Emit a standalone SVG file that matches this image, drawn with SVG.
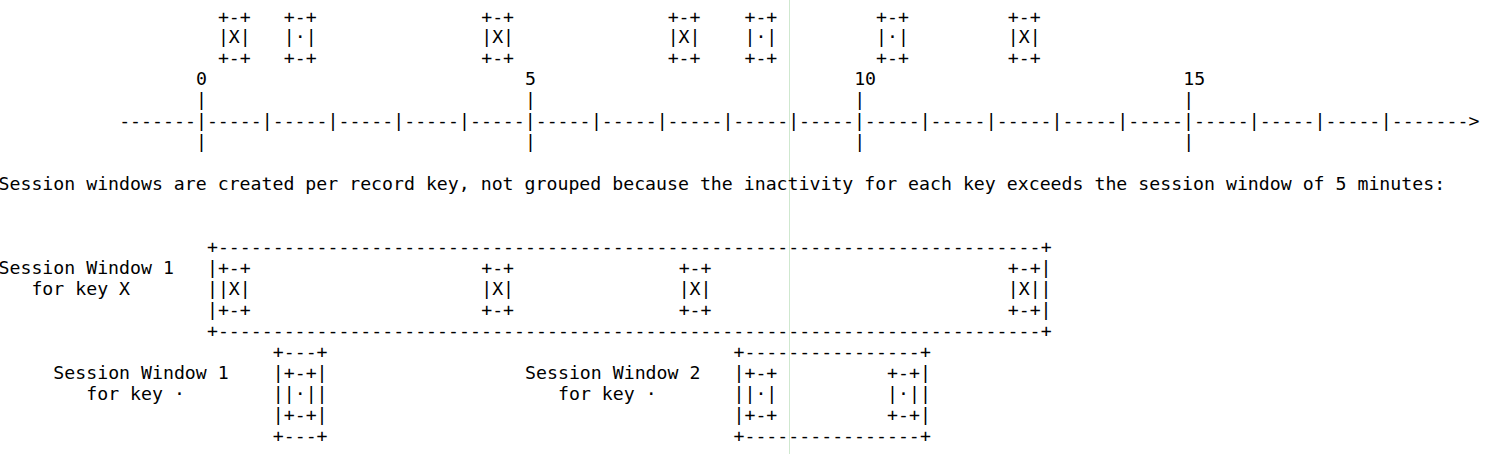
<svg xmlns="http://www.w3.org/2000/svg" width="1487" height="454" viewBox="0 0 1487 454">
<style>
text{font-family:"DejaVu Sans Mono","Liberation Mono",monospace;font-size:18.22px;fill:#000;white-space:pre}
</style>
<rect width="1487" height="454" fill="#fff"/>
<line x1="789.5" y1="0" x2="789.5" y2="454" stroke="#cfe8cf" stroke-width="1"/>
<g transform="translate(-1.5,-1)">
<g id="records">
<text xml:space="preserve" y="23.5"><tspan x="219.4">+-+</tspan><tspan x="285.22">+-+</tspan><tspan x="482.68">+-+</tspan><tspan x="669.17">+-+</tspan><tspan x="745.96">+-+</tspan><tspan x="877.6">+-+</tspan><tspan x="1009.24">+-+</tspan></text>
<text xml:space="preserve" y="44.45"><tspan x="219.4">|X|</tspan><tspan x="285.22">|·|</tspan><tspan x="482.68">|X|</tspan><tspan x="669.17">|X|</tspan><tspan x="745.96">|·|</tspan><tspan x="877.6">|·|</tspan><tspan x="1009.24">|X|</tspan></text>
<text xml:space="preserve" y="65.4"><tspan x="219.4">+-+</tspan><tspan x="285.22">+-+</tspan><tspan x="482.68">+-+</tspan><tspan x="669.17">+-+</tspan><tspan x="745.96">+-+</tspan><tspan x="877.6">+-+</tspan><tspan x="1009.24">+-+</tspan></text>
</g>
<g id="axis">
<text xml:space="preserve" y="86.35"><tspan x="197.46">0</tspan><tspan x="526.56">5</tspan><tspan x="855.66">10</tspan><tspan x="1184.76">15</tspan></text>
<text xml:space="preserve" y="107.3"><tspan x="197.46">|</tspan><tspan x="526.56">|</tspan><tspan x="855.66">|</tspan><tspan x="1184.76">|</tspan></text>
<text xml:space="preserve" y="128.25"><tspan x="120.67">-------</tspan><tspan x="197.46">|-----|-----|-----|-----|-----|-----</tspan><tspan x="592.38">|-----|-----|-----|-----|-----|-----</tspan><tspan x="987.3">|-----|-----|-----|-----|-----|-----</tspan><tspan x="1382.22">|-------&gt;</tspan></text>
<text xml:space="preserve" y="149.2"><tspan x="197.46">|</tspan><tspan x="526.56">|</tspan><tspan x="855.66">|</tspan><tspan x="1184.76">|</tspan></text>
</g>
<g id="caption">
<text xml:space="preserve" x="0" y="191.1">Session windows are created per record key, not grouped because the inactivity for each key exceeds the session window of 5 minutes:</text>
</g>
<g id="session-window-1-key-x">
<text xml:space="preserve" y="253.95"><tspan x="208.43">+</tspan><tspan x="219.4">-------------------------</tspan><tspan x="493.65">-------------------------</tspan><tspan x="767.9">-------------------------</tspan><tspan x="1042.15">+</tspan></text>
<text xml:space="preserve" y="274.9"><tspan x="0">Session Window 1</tspan><tspan x="208.43">|+-+</tspan><tspan x="482.68">+-+</tspan><tspan x="680.14">+-+</tspan><tspan x="1009.24">+-+|</tspan></text>
<text xml:space="preserve" y="295.85"><tspan x="32.91">for key X</tspan><tspan x="208.43">||X|</tspan><tspan x="482.68">|X|</tspan><tspan x="680.14">|X|</tspan><tspan x="1009.24">|X||</tspan></text>
<text xml:space="preserve" y="316.8"><tspan x="208.43">|+-+</tspan><tspan x="482.68">+-+</tspan><tspan x="680.14">+-+</tspan><tspan x="1009.24">+-+|</tspan></text>
<text xml:space="preserve" y="337.75"><tspan x="208.43">+</tspan><tspan x="219.4">-------------------------</tspan><tspan x="493.65">-------------------------</tspan><tspan x="767.9">-------------------------</tspan><tspan x="1042.15">+</tspan></text>
</g>
<g id="session-window-1-key-dot">
<text xml:space="preserve" y="358.7"><tspan x="274.25">+---+</tspan></text>
<text xml:space="preserve" y="379.65"><tspan x="54.85">Session Window 1</tspan><tspan x="274.25">|+-+|</tspan></text>
<text xml:space="preserve" y="400.6"><tspan x="87.76">for key ·</tspan><tspan x="274.25">||·||</tspan></text>
<text xml:space="preserve" y="421.55"><tspan x="274.25">|+-+|</tspan></text>
<text xml:space="preserve" y="442.5"><tspan x="274.25">+---+</tspan></text>
</g>
<g id="session-window-2-key-dot">
<text xml:space="preserve" y="358.7"><tspan x="734.99">+</tspan><tspan x="745.96">----------------</tspan><tspan x="921.48">+</tspan></text>
<text xml:space="preserve" y="379.65"><tspan x="526.56">Session Window 2</tspan><tspan x="734.99">|+-+</tspan><tspan x="888.57">+-+|</tspan></text>
<text xml:space="preserve" y="400.6"><tspan x="559.47">for key ·</tspan><tspan x="734.99">||·|</tspan><tspan x="888.57">|·||</tspan></text>
<text xml:space="preserve" y="421.55"><tspan x="734.99">|+-+</tspan><tspan x="888.57">+-+|</tspan></text>
<text xml:space="preserve" y="442.5"><tspan x="734.99">+</tspan><tspan x="745.96">----------------</tspan><tspan x="921.48">+</tspan></text>
</g>
</g>
</svg>
